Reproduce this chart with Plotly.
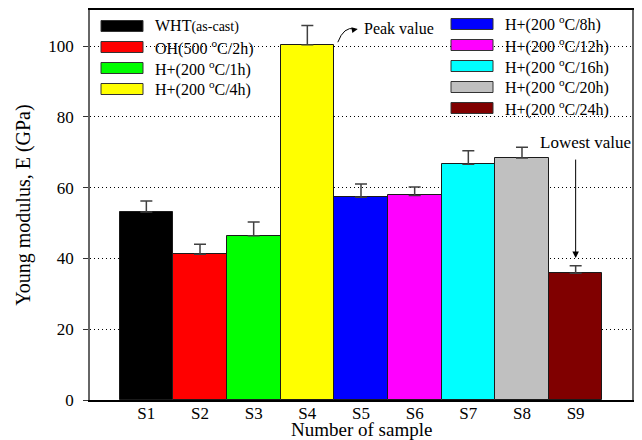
import plotly.graph_objects as go

# ---- data ----
samples = ["S1", "S2", "S3", "S4", "S5", "S6", "S7", "S8", "S9"]
modulus = [53.1, 41.2, 46.4, 100.4, 57.3, 57.8, 66.6, 68.4, 35.8]
errors = [3.1, 2.8, 3.9, 5.4, 3.7, 2.4, 3.8, 3.0, 2.1]
conditions = [
    "WHT<span style='font-size:14px'>(as-cast)</span>",
    "OH(500 <sup>o</sup>C/2h)",
    "H+(200 <sup>o</sup>C/1h)",
    "H+(200 <sup>o</sup>C/4h)",
    "H+(200 <sup>o</sup>C/8h)",
    "H+(200 <sup>o</sup>C/12h)",
    "H+(200 <sup>o</sup>C/16h)",
    "H+(200 <sup>o</sup>C/20h)",
    "H+(200 <sup>o</sup>C/24h)",
]
colors = ["#000000", "#ff0000", "#00ff00", "#ffff00", "#0000ff",
          "#ff00ff", "#00ffff", "#c0c0c0", "#800000"]
y_ticks = [0, 20, 40, 60, 80, 100]
x_title = "Number of sample"
y_title = "Young modulus, E (GPa)"

FONT = "Liberation Serif, Times New Roman, serif"
W, H = 642, 440
L, R, T, B = 90, 10, 10, 40
PW, PH = W - L - R, H - T - B


def px(xp):
    return (xp - L) / PW


def py(yp):
    return (H - B - yp) / PH


positions = list(range(len(samples)))

fig = go.Figure()
fig.add_trace(go.Bar(
    x=positions, y=modulus, width=1,
    marker=dict(color=colors, line=dict(color="#1a1a1a", width=1)),
    error_y=dict(type="data", array=errors, arrayminus=[0] * len(errors),
                 symmetric=False, visible=True,
                 color="#404040", thickness=1.5, width=6),
    showlegend=False,
))

# custom legend (two columns)
shapes = []
annotations = []
for i, (lab, col) in enumerate(zip(conditions, colors)):
    if i < 4:
        x0, xt, yc = 101, 153, 26 + 21 * i
    else:
        x0, xt, yc = 451, 503, 24 + 21 * (i - 4)
    shapes.append(dict(type="rect", xref="paper", yref="paper",
                       x0=px(x0), x1=px(x0 + 42), y0=py(yc + 5.5), y1=py(yc - 5.5),
                       fillcolor=col, line=dict(color="#333333", width=1)))
    annotations.append(dict(xref="paper", yref="paper", x=px(xt), y=py(yc),
                            text=lab, showarrow=False, xanchor="left", yanchor="middle",
                            font=dict(family=FONT, size=16, color="black")))

# x-axis title
annotations.append(dict(xref="paper", yref="paper", x=0.5, y=py(429.5),
                        text=x_title, showarrow=False, xanchor="center", yanchor="middle",
                        font=dict(family=FONT, size=19, color="black")))

# Peak value annotation
annotations.append(dict(x=4.015, y=105.1, xref="x", yref="y", text="Peak value",
                        showarrow=False, xanchor="left", yanchor="middle",
                        font=dict(family=FONT, size=16, color="black")))
shapes.append(dict(type="path", xref="x", yref="y",
                   path="M 3.568,101.1 Q 3.68,105.6 3.88,104.9",
                   line=dict(color="black", width=1)))
annotations.append(dict(x=3.94, y=104.8, xref="x", yref="y", text="",
                        showarrow=True, ax=-6, ay=1, arrowhead=2, arrowsize=1.2,
                        arrowwidth=1, arrowcolor="black", standoff=0))

# Lowest value annotation
annotations.append(dict(x=7.29, y=72.9, xref="x", yref="y", text="Lowest value",
                        showarrow=False, xanchor="left", yanchor="middle",
                        font=dict(family=FONT, size=17, color="black")))
annotations.append(dict(x=8, y=40.1, xref="x", yref="y", text="",
                        showarrow=True, ax=0, ay=-100, arrowhead=2, arrowsize=1.3,
                        arrowwidth=1, arrowcolor="black", standoff=0))

fig.update_layout(
    width=W, height=H,
    margin=dict(l=L, r=R, t=T, b=B),
    paper_bgcolor="white", plot_bgcolor="white",
    font=dict(family=FONT, size=17, color="black"),
    shapes=shapes, annotations=annotations,
    bargap=0,
)
fig.update_xaxes(
    range=[-1.05, 9.05], tickvals=positions, ticktext=samples,
    showgrid=False, zeroline=False, ticks="", automargin=False,
    ticklabelstandoff=-3,
    showline=True, linecolor="black", linewidth=1.5, mirror=True,
    tickfont=dict(family=FONT, size=17),
)
fig.update_yaxes(
    range=[0, 110.2], tickvals=y_ticks, automargin=False,
    showgrid=True, gridcolor="black", griddash="1px,3px", gridwidth=1,
    zeroline=False, ticks="outside", ticklen=5, tickcolor="#333333",
    showline=True, linecolor="#666666", linewidth=1.5, mirror=True,
    ticklabelstandoff=6,
    title=dict(text=y_title, font=dict(family=FONT, size=20), standoff=12),
    tickfont=dict(family=FONT, size=17),
)

fig.write_html(
    "out.html",
    config={"displayModeBar": False},
    post_script="document.body.style.margin='0';document.body.style.overflow='hidden';",
)
